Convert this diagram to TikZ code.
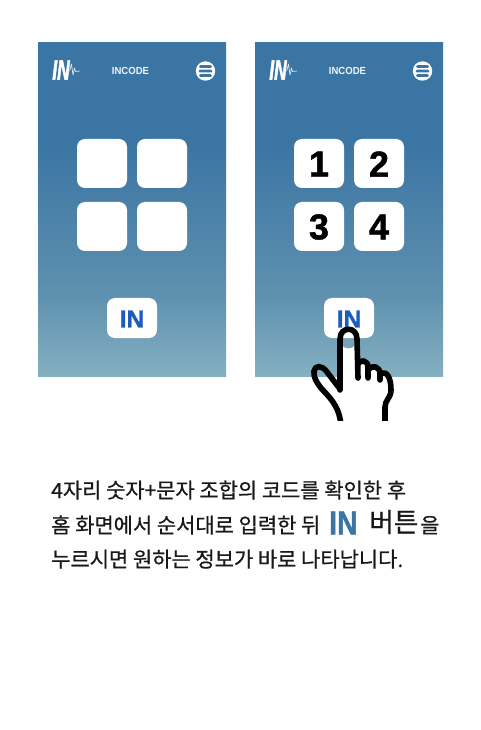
\documentclass[tikz,border=0pt]{standalone}
\usepackage{fontspec}
\setmainfont{Noto Sans CJK KR}[RawFeature={embolden=0.7}]
\newfontfamily\liber{Liberation Sans}
\newfontfamily\liberheavy{Liberation Sans Bold}[RawFeature={embolden=1.2}]
\newfontfamily\liberlogo{Liberation Sans Bold Italic}[RawFeature={embolden=2.5}]
\usetikzlibrary{calc}
\definecolor{pblue}{HTML}{3B75A3}
\definecolor{pmid}{HTML}{5F91AF}
\definecolor{pbot}{HTML}{85B0C1}
\definecolor{inblue}{HTML}{1E5BBE}
\pgfdeclareverticalshading{panelgrad}{100bp}{color(0bp)=(pbot);color(25bp)=(pbot);color(37bp)=(pmid);color(60bp)=(pblue);color(75bp)=(pblue);color(100bp)=(pblue)}
\tikzset{
  x=0.75pt,y=-0.75pt,
  panel/.style={shading=panelgrad,shading angle=0},
  tile/.style={fill=white,rounded corners=6pt},
  digit/.style={font=\fontsize{27}{30}\selectfont\liberheavy,text=black,inner sep=0pt},
  btnlabel/.style={font=\fontsize{18.5}{22}\selectfont\liberheavy,text=inblue,inner sep=0pt},
  title/.style={font=\fontsize{7.7}{9}\selectfont\liber\bfseries,text=white!92!pblue,inner sep=0pt},
  logotext/.style={font=\fontsize{21}{23}\selectfont\liberlogo,text=white,inner sep=0pt},
  body/.style={font=\fontsize{15.7}{18}\selectfont,text=black!90,inner sep=0pt,anchor=base west},
  handline/.style={draw=black,line width=4.2pt,line cap=round,line join=round},
}
\newcommand{\screen}[1]{%
  \begin{scope}[shift={(#1,0)}]
    \path[panel] (38,42.5) rectangle (226,376.5);
    \node[logotext,xscale=0.62] at (61,70) {IN};
    \draw[white!85!pblue,line width=0.5pt,line join=round] (68,72) -- (70,70) -- (71.5,64) -- (73,75) -- (74.5,68) -- (75.5,71.5) -- (80,71);
    \node[title,xscale=0.93] at (130.5,71) {INCODE};
    \fill[white] (205.5,71) circle (9.7);
    \fill[pblue,rounded corners=1pt] (199,65.2) rectangle (212,67.9);
    \fill[pblue,rounded corners=1pt] (198.5,69.7) rectangle (212.5,72.4);
    \fill[pblue,rounded corners=1pt] (199,74.2) rectangle (212,76.9);
    \fill[tile] (77,139) rectangle (127,188);
    \fill[tile] (137,139) rectangle (187,188);
    \fill[tile] (77,202) rectangle (127,251);
    \fill[tile] (137,202) rectangle (187,251);
    \fill[tile] (107,298) rectangle (157,338);
    \node[btnlabel] at (132,319) {IN};
  \end{scope}}
\begin{document}
\begin{tikzpicture}
\useasboundingbox[fill=white] (0,0) rectangle (480,730);
\screen{0}
\screen{217}
\node[digit] (d1) at (319,164) {1};
\node[digit] (d2) at (379,164) {2};
\node[digit] (d3) at (319,227) {3};
\node[digit] (d4) at (379,227) {4};
% hand
\begin{scope}
\clip (300,320) rectangle (400,420);
\path[fill=white] (340,390) -- (340,340) arc (180:0:8.5) -- (357,361) -- (388,376) -- (391,392) -- (385,405) -- (385,422) -- (341,422) -- (315,375) -- cycle;
\draw[handline] (340,390) -- (340,339) .. controls (340,326) and (357,326) .. (357,339) -- (358,378);
\draw[handline] (358,364) .. controls (360,359) and (368,360) .. (368,367) -- (368,378);
\draw[handline] (369,369) .. controls (372,365) and (380,366) .. (380,374) -- (380,380);
\draw[handline] (381,373) .. controls (387,371) and (391,378) .. (391,390) .. controls (391,398) and (385,400) .. (385,407) -- (385,425);
\draw[handline] (340,389) -- (327,372) .. controls (322,365) and (315,365) .. (314,371) .. controls (313,377) and (317,383) .. (321,388) .. controls (329,397) and (339,405) .. (341,425);
\end{scope}
% text
\node[body] (l1) at (51,498) {4자리 숫자+문자 조합의 코드를 확인한 후};
\node[body] (l2) at (51,533) {홈 화면에서 순서대로 입력한 뒤};
\node[font=\fontsize{25}{27}\selectfont\liberheavy,text=pblue,inner sep=0pt,anchor=base west,xscale=0.85] (inword) at (329,534.5) {IN};
\node[font=\fontsize{20}{22}\selectfont,text=black!90,inner sep=0pt,anchor=base west] (btn) at (369,532) {버튼};
\node[body] (l2b) at (420,533) {을};
\node[body] (l3) at (51,567) {누르시면 원하는 정보가 바로 나타납니다.};
\end{tikzpicture}
\end{document}
